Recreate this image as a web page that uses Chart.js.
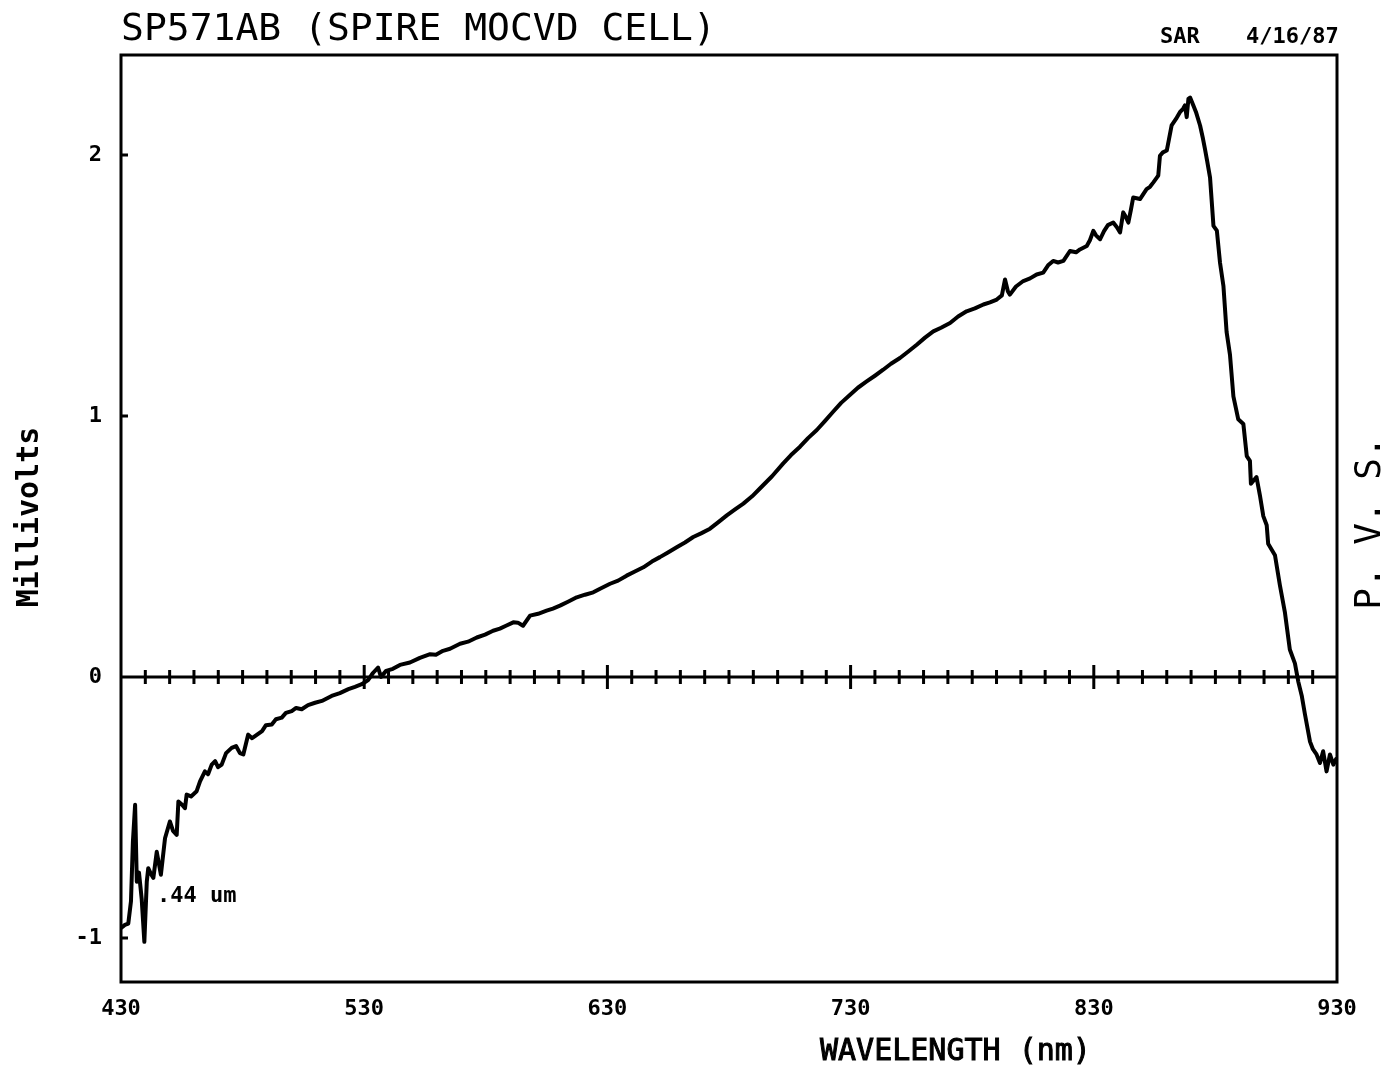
<!DOCTYPE html>
<html>
<head>
<meta charset="utf-8">
<title>SP571AB (SPIRE MOCVD CELL)</title>
<script src="https://cdn.jsdelivr.net/npm/chart.js@4.4.0/dist/chart.umd.min.js"></script>
<style>
  html, body { margin: 0; padding: 0; background: #fff; }
  #wrap { width: 1395px; height: 1070px; }
</style>
</head>
<body>
<div id="wrap"><canvas id="pvs" width="1395" height="1070"></canvas></div>
<script>
// scan readings: wavelength in nm, photovoltage in mV
const wavelengths = [
  430.3, 431.6, 433.0, 434.1, 434.9, 435.8, 436.5, 437.4, 438.5, 439.6,
  440.6, 441.2, 442.3, 443.3, 444.7, 446.4, 448.1, 450.1, 451.4, 452.9,
  453.6, 455.1, 456.3, 457.0, 458.8, 461.1, 462.5, 464.5, 465.8, 467.3,
  468.7, 469.9, 471.4, 473.2, 475.5, 477.3, 478.9, 480.3, 482.3, 483.9,
  485.1, 488.0, 489.6, 492.0, 493.7, 496.1, 497.8, 500.2, 502.0, 504.3,
  506.9, 509.8, 512.6, 516.6, 520.0, 523.5, 526.2, 529.0, 531.6, 533.6,
  535.7, 536.9, 539.0, 541.8, 544.7, 548.8, 552.9, 557.1, 559.5, 562.4,
  565.3, 569.4, 572.7, 576.3, 579.7, 583.0, 585.8, 588.3, 591.3, 593.2,
  595.3, 598.2, 601.5, 605.0, 607.6, 610.5, 613.8, 617.4, 620.8, 624.2,
  627.0, 631.1, 634.4, 637.9, 641.3, 644.8, 648.3, 651.6, 654.9, 658.5,
  661.9, 665.3, 668.5, 672.2, 675.5, 679.1, 682.5, 685.9, 689.5, 692.7,
  697.7, 702.3, 705.5, 709.2, 712.5, 716.1, 719.5, 722.9, 726.1, 729.8,
  733.0, 736.6, 740.0, 743.4, 746.6, 750.3, 753.6, 757.2, 760.6, 764.0,
  767.2, 770.9, 774.2, 777.7, 781.1, 784.6, 787.3, 790.1, 792.2, 793.5,
  794.7, 795.5, 798.0, 801.0, 803.8, 806.5, 809.2, 811.2, 813.3, 815.3,
  817.5, 820.2, 822.7, 824.3, 827.1, 828.4, 829.8, 830.9, 832.6, 834.2,
  835.8, 838.0, 839.5, 840.8, 842.1, 843.2, 844.2, 845.3, 846.2, 849.0,
  851.7, 853.1, 854.5, 855.9, 856.5, 857.2, 858.4, 860.0, 860.9, 862.0,
  863.8, 865.4, 866.7, 867.5, 868.2, 868.9, 869.6, 870.9, 872.0, 873.7,
  874.9, 875.7, 876.6, 877.8, 879.2, 880.6, 881.9, 883.3, 884.6, 886.0,
  887.4, 889.4, 891.5, 892.9, 894.2, 894.6, 896.9, 898.3, 899.7, 901.1,
  901.7, 904.5, 906.5, 908.6, 910.6, 912.7, 914.1, 915.5, 916.8, 918.9,
  920.1, 921.6, 923.0, 924.3, 925.7, 927.1, 928.5, 929.6
];
const millivolts = [
  -0.96, -0.95, -0.945, -0.86, -0.63, -0.49, -0.785, -0.75, -0.85, -1.015,
  -0.785, -0.733, -0.755, -0.77, -0.67, -0.758, -0.618, -0.554, -0.59, -0.605,
  -0.477, -0.49, -0.503, -0.451, -0.458, -0.438, -0.40, -0.362, -0.373, -0.336,
  -0.323, -0.346, -0.336, -0.292, -0.272, -0.265, -0.292, -0.297, -0.221, -0.235,
  -0.227, -0.208, -0.185, -0.182, -0.162, -0.156, -0.138, -0.131, -0.119, -0.124,
  -0.108, -0.099, -0.092, -0.073, -0.062, -0.047, -0.038, -0.028, -0.012, 0.015,
  0.036, 0.0, 0.023, 0.031, 0.046, 0.055, 0.073, 0.087, 0.085, 0.10,
  0.108, 0.127, 0.135, 0.151, 0.162, 0.177, 0.185, 0.196, 0.209, 0.208,
  0.196, 0.235, 0.242, 0.254, 0.262, 0.273, 0.288, 0.305, 0.315, 0.324,
  0.338, 0.357, 0.369, 0.388, 0.404, 0.42, 0.442, 0.459, 0.477, 0.497,
  0.515, 0.536, 0.55, 0.568, 0.592, 0.619, 0.642, 0.664, 0.692, 0.722,
  0.769, 0.818, 0.85, 0.882, 0.915, 0.946, 0.981, 1.017, 1.05, 1.081,
  1.108, 1.132, 1.154, 1.177, 1.20, 1.222, 1.246, 1.273, 1.30, 1.324,
  1.338, 1.356, 1.381, 1.401, 1.412, 1.427, 1.435, 1.446, 1.462, 1.523,
  1.477, 1.465, 1.496, 1.517, 1.527, 1.542, 1.549, 1.577, 1.594, 1.588,
  1.594, 1.632, 1.627, 1.638, 1.651, 1.673, 1.709, 1.692, 1.677, 1.708,
  1.731, 1.741, 1.723, 1.703, 1.78, 1.762, 1.741, 1.792, 1.837, 1.831,
  1.869, 1.878, 1.895, 1.913, 1.921, 1.997, 2.01, 2.017, 2.06, 2.113,
  2.138, 2.164, 2.177, 2.19, 2.145, 2.215, 2.22, 2.19, 2.165, 2.113,
  2.062, 2.023, 1.977, 1.913, 1.728, 1.71, 1.587, 1.498, 1.322, 1.234,
  1.075, 0.987, 0.969, 0.846, 0.828, 0.74, 0.766, 0.696, 0.616, 0.581,
  0.51, 0.466, 0.352, 0.246, 0.105, 0.052, -0.019, -0.072, -0.142, -0.248,
  -0.277, -0.297, -0.33, -0.285, -0.362, -0.297, -0.336, -0.315
];

const xTickValues = [430, 530, 630, 730, 830, 930];
const yTickValues = [-1, 0, 1, 2];
// marks along the zero line, every 10 nm
const zeroMinorTicks = [
  440, 450, 460, 470, 480, 490, 500, 510, 520, 530, 540, 550, 560, 570, 580,
  590, 600, 610, 620, 630, 640, 650, 660, 670, 680, 690, 700, 710, 720, 730,
  740, 750, 760, 770, 780, 790, 800, 810, 820, 830, 840, 850, 860, 870, 880,
  890, 900, 910, 920
];
const zeroMajorTicks = [530, 630, 730, 830];

const MONO = '"DejaVu Sans Mono", "Liberation Mono", monospace';

/* frame, zero line and the plotter labels */
const plotterFrame = {
  id: 'plotterFrame',
  beforeDatasetsDraw(chart) {
    const { ctx, chartArea: a, scales: { x, y } } = chart;
    ctx.save();
    ctx.strokeStyle = '#000';
    ctx.lineWidth = 3;
    ctx.strokeRect(a.left, a.top, a.right - a.left, a.bottom - a.top);

    const y0 = y.getPixelForValue(0);
    ctx.beginPath();
    ctx.moveTo(a.left, y0);
    ctx.lineTo(a.right, y0);
    zeroMinorTicks.forEach(v => {
      const px = x.getPixelForValue(v);
      const h = zeroMajorTicks.includes(v) ? 12 : 7;
      ctx.moveTo(px, y0 - h);
      ctx.lineTo(px, y0 + h);
    });
    yTickValues.forEach(v => {
      const py = y.getPixelForValue(v);
      ctx.moveTo(a.left, py);
      ctx.lineTo(a.left + 7, py);
    });
    ctx.stroke();
    ctx.restore();
  },
  afterDraw(chart) {
    const { ctx } = chart;
    ctx.save();
    ctx.fillStyle = '#000';
    ctx.strokeStyle = '#000';
    ctx.textBaseline = 'alphabetic';

    ctx.font = '38px ' + MONO;
    ctx.textAlign = 'left';
    ctx.fillText('SP571AB (SPIRE MOCVD CELL)', 121, 40);

    ctx.font = 'bold 22px ' + MONO;
    ctx.fillText('SAR', 1160, 43);
    ctx.fillText('4/16/87', 1246, 43);

    ctx.fillText('.44 um', 157, 902);

    ctx.font = '30px ' + MONO;
    ctx.lineWidth = 1;
    ctx.fillText('WAVELENGTH (nm)', 820, 1060);
    ctx.strokeText('WAVELENGTH (nm)', 820, 1060);

    // rotated axis captions
    ctx.textAlign = 'center';
    ctx.save();
    ctx.translate(38, 517);
    ctx.rotate(-Math.PI / 2);
    ctx.font = 'bold 30px ' + MONO;
    ctx.fillText('Millivolts', 0, 0);
    ctx.restore();

    ctx.save();
    ctx.translate(1380, 523);
    ctx.rotate(-Math.PI / 2);
    ctx.font = '36px ' + MONO;
    ctx.fillText('P. V. S.', 0, 0);
    ctx.restore();

    ctx.restore();
  }
};

const points = wavelengths.map((w, i) => ({ x: w, y: millivolts[i] }));

new Chart(document.getElementById('pvs'), {
  type: 'line',
  data: {
    datasets: [{
      data: points,
      borderColor: '#000',
      borderWidth: 4,
      borderJoinStyle: 'round',
      borderCapStyle: 'round',
      pointRadius: 0,
      tension: 0,
      fill: false
    }]
  },
  options: {
    responsive: false,
    animation: false,
    layout: { padding: { top: 55, right: 58, left: 0, bottom: 0 } },
    plugins: {
      legend: { display: false },
      tooltip: { enabled: false }
    },
    scales: {
      x: {
        type: 'linear',
        min: 430,
        max: 930,
        afterBuildTicks: s => { s.ticks = xTickValues.map(v => ({ value: v })); },
        afterFit: s => { s.height = 88; },
        grid: { display: false, drawTicks: false },
        border: { display: false },
        ticks: {
          color: '#000',
          padding: 14,
          maxRotation: 0,
          autoSkip: false,
          font: { family: MONO, weight: 'bold', size: 22 }
        }
      },
      y: {
        type: 'linear',
        min: -1.169,
        max: 2.383,
        afterBuildTicks: s => { s.ticks = yTickValues.map(v => ({ value: v })); },
        afterFit: s => { s.width = 121; },
        grid: { display: false, drawTicks: false },
        border: { display: false },
        ticks: {
          color: '#000',
          padding: 19,
          autoSkip: false,
          font: { family: MONO, weight: 'bold', size: 22 }
        }
      }
    }
  },
  plugins: [plotterFrame]
});
</script>
</body>
</html>
